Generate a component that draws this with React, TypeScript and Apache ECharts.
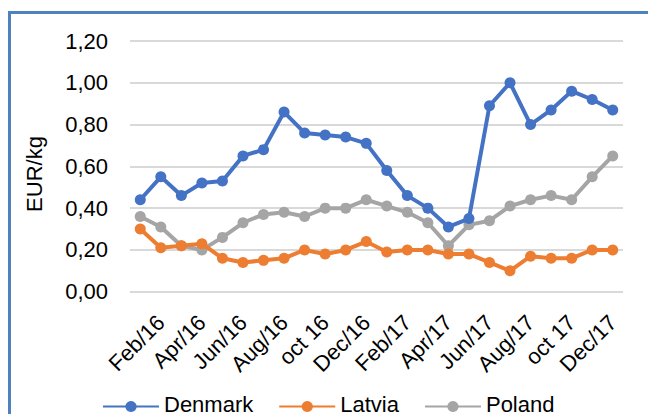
import React, { useEffect, useRef } from "react";
import * as echarts from "echarts";

const categories = [
  "Jan/16", "Feb/16", "Mar/16", "Apr/16", "May/16", "Jun/16", "Jul/16", "Aug/16",
  "Sep/16", "oct 16", "Nov/16", "Dec/16", "Jan/17", "Feb/17", "Mar/17", "Apr/17",
  "May/17", "Jun/17", "Jul/17", "Aug/17", "Sep/17", "oct 17", "Nov/17", "Dec/17",
];

const denmark = [
  0.44, 0.55, 0.46, 0.52, 0.53, 0.65, 0.68, 0.86, 0.76, 0.75, 0.74, 0.71,
  0.58, 0.46, 0.40, 0.31, 0.35, 0.89, 1.0, 0.80, 0.87, 0.96, 0.92, 0.87,
];

const latvia = [
  0.30, 0.21, 0.22, 0.23, 0.16, 0.14, 0.15, 0.16, 0.20, 0.18, 0.20, 0.24,
  0.19, 0.20, 0.20, 0.18, 0.18, 0.14, 0.10, 0.17, 0.16, 0.16, 0.20, 0.20,
];

const poland = [
  0.36, 0.31, 0.22, 0.20, 0.26, 0.33, 0.37, 0.38, 0.36, 0.40, 0.40, 0.44,
  0.41, 0.38, 0.33, 0.22, 0.32, 0.34, 0.41, 0.44, 0.46, 0.44, 0.55, 0.65,
];

const seriesNames = ["Denmark", "Latvia", "Poland"];
const seriesColors = ["#4472C4", "#ED7D31", "#A5A5A5"];
const yAxisTitle = "EUR/kg";

const FONT = "'Liberation Sans', Arial, sans-serif";

export default function App() {
  const ref = useRef<HTMLDivElement>(null);

  useEffect(() => {
    if (!ref.current) return;
    const chart = echarts.init(ref.current, undefined, { renderer: "svg" });
    const data = [denmark, latvia, poland];
    chart.setOption({
      animation: false,
      backgroundColor: "#ffffff",
      textStyle: { fontFamily: FONT },
      grid: { left: 130, right: 25, top: 41, bottom: 122.3, containLabel: false },
      xAxis: {
        type: "category",
        data: categories,
        boundaryGap: true,
        axisLine: { show: false },
        axisTick: { show: false },
        axisLabel: {
          interval: (index: number) => index % 2 === 1,
          rotate: 45,
          margin: 27,
          fontSize: 22,
          fontFamily: FONT,
          color: "#000000",
        },
        splitLine: { show: false },
      },
      yAxis: {
        type: "value",
        min: 0,
        max: 1.2,
        interval: 0.2,
        axisLine: { show: false },
        axisTick: { show: false },
        axisLabel: {
          margin: 22,
          fontSize: 22,
          fontFamily: FONT,
          color: "#000000",
          formatter: (v: number) => v.toFixed(2).replace(".", ","),
        },
        splitLine: { lineStyle: { color: "#D9D9D9", width: 2 } },
      },
      legend: {
        data: seriesNames,
        left: 102,
        top: 393,
        padding: 0,
        itemWidth: 56,
        itemHeight: 14,
        itemGap: 25,
        formatter: "{t|{name}}",
        textStyle: {
          fontSize: 22,
          fontFamily: FONT,
          color: "#000000",
          rich: {
            t: {
              fontSize: 22,
              fontFamily: FONT,
              color: "#000000",
              padding: [0, 0, 5, 0],
            },
          },
        },
      },
      graphic: [
        {
          type: "rect",
          shape: { x: 9.5, y: 12.5, width: 700, height: 500 },
          style: { fill: "none", stroke: "#4F81BD", lineWidth: 3 },
          silent: true,
          z: 100,
        },
        {
          type: "text",
          x: 34,
          y: 174,
          rotation: Math.PI / 2,
          style: {
            text: yAxisTitle,
            align: "center",
            verticalAlign: "middle",
            fontSize: 22,
            fontFamily: FONT,
            fill: "#000000",
          },
        },
      ],
      series: seriesNames.map((name, i) => ({
        name,
        type: "line",
        data: data[i],
        symbol: "circle",
        symbolSize: 11,
        lineStyle: { width: 4, color: seriesColors[i] },
        itemStyle: { color: seriesColors[i] },
        z: 10 - i,
      })),
    });
    return () => chart.dispose();
  }, []);

  return (
    <div
      ref={ref}
      style={{ position: "fixed", left: 0, top: 0, width: 648, height: 414 }}
    />
  );
}
